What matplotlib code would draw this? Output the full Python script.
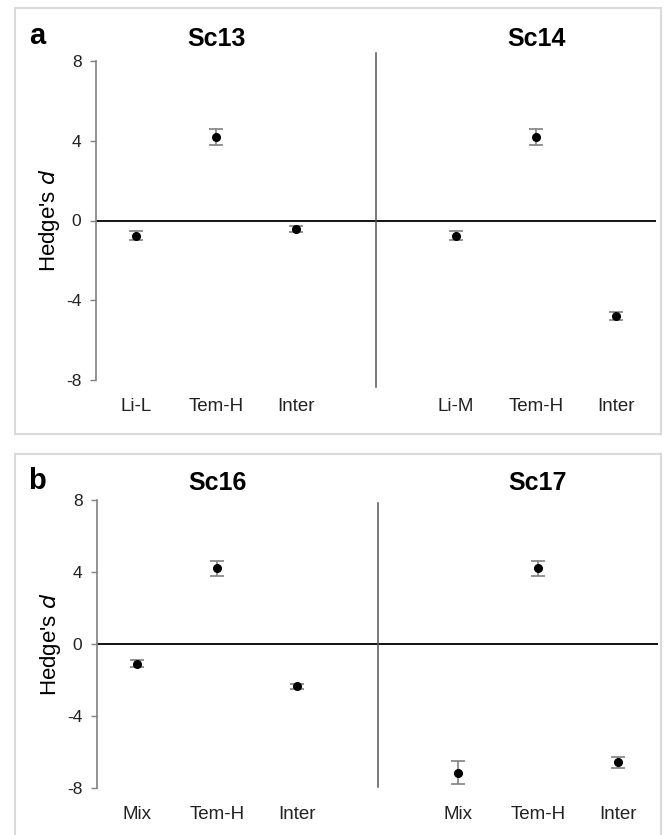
import numpy as np
import matplotlib.pyplot as plt
from matplotlib.patches import Rectangle

plt.rcParams['font.family'] = ['Liberation Sans', 'DejaVu Sans']

# two scenarios per panel, three effects each
labels_a = ['Li-L', 'Tem-H', 'Inter', 'Li-M', 'Tem-H', 'Inter']
means_a = [-0.77, 4.2, -0.45, -0.77, 4.2, -4.8]
errs_a = [0.22, 0.4, 0.15, 0.22, 0.4, 0.2]
titles_a = ['Sc13', 'Sc14']

labels_b = ['Mix', 'Tem-H', 'Inter', 'Mix', 'Tem-H', 'Inter']
means_b = [-1.1, 4.2, -2.35, -7.15, 4.2, -6.57]
errs_b = [0.2, 0.4, 0.15, 0.65, 0.4, 0.3]
titles_b = ['Sc16', 'Sc17']

yticks = [-8, -4, 0, 4, 8]
xpos = [1, 2, 3, 5, 6, 7]

W, H = 670, 835
fig = plt.figure(figsize=(W / 100, H / 100), dpi=100)

# frames around each panel
for top, bot in [(8, 434), (454, 840)]:
    fig.patches.append(Rectangle((15 / W, 1 - bot / H), 646 / W, (bot - top) / H,
                                 transform=fig.transFigure, fill=False,
                                 edgecolor='#dadada', lw=1.5))


def draw_panel(ax, labels, means, errs, div_span):
    ax.errorbar(xpos, means, yerr=errs, fmt='o', color='black', ms=5.5,
                ecolor='#808080', elinewidth=1.2, capsize=5, capthick=1.2, zorder=3)
    ax.set_xlim(0.5, 7.5)
    ax.set_ylim(-8, 8)
    for s in ['top', 'right', 'bottom']:
        ax.spines[s].set_visible(False)
    ax.spines['left'].set_color('#808080')
    ax.spines['left'].set_linewidth(1.2)
    ax.set_yticks(yticks)
    ax.set_yticklabels([str(t) for t in yticks], fontsize=12.5, color='#222222')
    ax.tick_params(axis='y', length=4.5, width=1, color='#808080', pad=6)
    ax.set_xticks(xpos)
    ax.set_xticklabels(labels, fontsize=13.5, color='#222222')
    ax.tick_params(axis='x', length=0, pad=13)
    ax.axhline(0, color='black', lw=1.3, zorder=1)
    ax.plot([4, 4], div_span, color='#555555', lw=1.1, clip_on=False)
    ax.set_ylabel("Hedge's $\\it{d}$", fontsize=16, labelpad=3)


ax1 = fig.add_axes([96 / W, 1 - 380 / H, 560 / W, 319 / H])
draw_panel(ax1, labels_a, means_a, errs_a, [-8.35, 8.4])
ax2 = fig.add_axes([97 / W, 1 - 788 / H, 561 / W, 288 / H])
draw_panel(ax2, labels_b, means_b, errs_b, [-7.95, 7.85])

# scenario titles above the two halves, panel letters at the corner
for ax, titles, ty in [(ax1, titles_a, 39), (ax2, titles_b, 483)]:
    for x, t in zip([2, 6], titles):
        xd = ax.transData.transform((x, 0))[0]
        fig.text(xd / fig.bbox.width, 1 - ty / H, t, ha='center', va='center',
                 fontsize=18, fontweight='bold')
fig.text(37 / W, 1 - 36 / H, 'a', fontsize=21, fontweight='bold', ha='center', va='center')
fig.text(37 / W, 1 - 481 / H, 'b', fontsize=21, fontweight='bold', ha='center', va='center')

fig.savefig('out.png', dpi=100)
